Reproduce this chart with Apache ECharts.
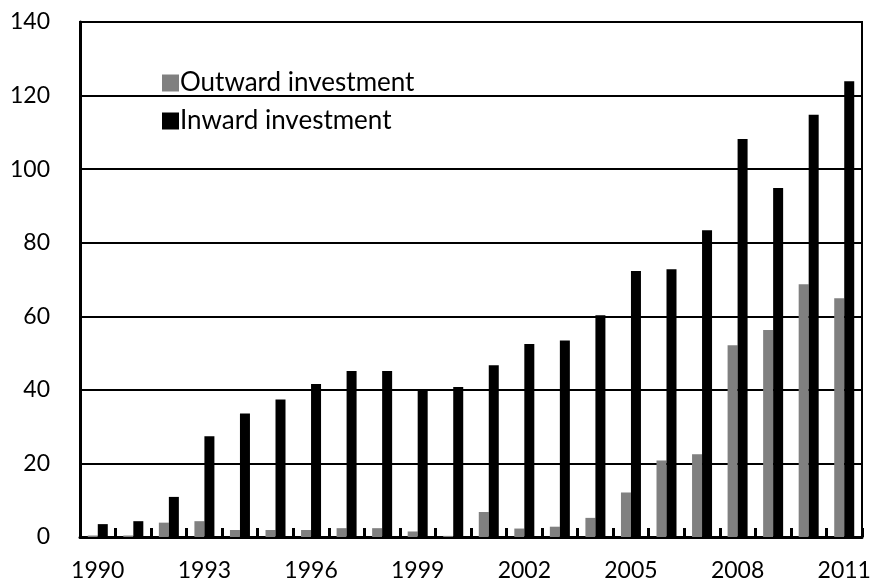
<!DOCTYPE html>
<html>
<head>
<meta charset="utf-8">
<script src="https://cdn.jsdelivr.net/npm/echarts@6/dist/echarts.min.js"></script>
<style>
  html, body { margin: 0; padding: 0; background: #fff; }
  #chart { width: 875px; height: 585px; }
</style>
</head>
<body>
<div id="chart"></div>
<script>
// 年份
const years = ['1990', '1991', '1992', '1993', '1994', '1995', '1996', '1997', '1998', '1999', '2000',
  '2001', '2002', '2003', '2004', '2005', '2006', '2007', '2008', '2009', '2010', '2011']
// 對外投資
const outward = [0.4, 0.4, 3.9, 4.3, 1.9, 1.9, 1.9, 2.4, 2.4, 1.5, 0.3,
  6.8, 2.3, 2.8, 5.2, 12.1, 20.8, 22.5, 52.1, 56.3, 68.7, 64.9]
// 對內投資
const inward = [3.5, 4.3, 10.9, 27.4, 33.6, 37.4, 41.6, 45.1, 45.1, 40.0, 40.8,
  46.7, 52.5, 53.4, 60.3, 72.3, 72.8, 83.4, 108.2, 94.9, 114.8, 123.9]

const fontFamily = 'Lato, "Open Sans", sans-serif'
const myChart = echarts.init(document.getElementById('chart'))

const option = {
  animation: false,
  textStyle: { fontFamily },
  legend: {
    orient: 'vertical',
    left: 157,
    top: 65,
    icon: 'rect',
    itemWidth: 17,
    itemHeight: 17,
    itemGap: 12,
    textStyle: { fontSize: 26, color: '#000', fontFamily, padding: [0, 0, 0, -4] },
    data: ['Outward investment', 'Inward investment'],
  },
  grid: {
    left: 80,
    right: 13,
    top: 22,
    bottom: 48,
    show: true,
    borderColor: '#000',
    borderWidth: 2,
  },
  xAxis: {
    type: 'category',
    data: years,
    axisLine: { lineStyle: { color: '#000', width: 3 } },
    axisTick: { show: true, inside: true, length: 9, interval: 0, lineStyle: { color: '#000', width: 3 } },
    axisLabel: { interval: 2, fontSize: 23, color: '#000', margin: 22, fontFamily },
  },
  yAxis: {
    type: 'value',
    min: 0,
    max: 140,
    interval: 20,
    axisLine: { show: true, lineStyle: { color: '#000', width: 3 } },
    axisTick: { show: false },
    axisLabel: { fontSize: 23, color: '#000', margin: 30, fontFamily },
    splitLine: { lineStyle: { color: '#000', width: 2 } },
  },
  series: [
    {
      name: 'Outward investment',
      type: 'bar',
      data: outward,
      barWidth: 10,
      barGap: '0%',
      itemStyle: { color: '#808080' },
    },
    {
      name: 'Inward investment',
      type: 'bar',
      data: inward,
      barWidth: 10,
      barGap: '0%',
      itemStyle: { color: '#000' },
    },
  ],
}

myChart.setOption(option, true)
</script>
</body>
</html>
